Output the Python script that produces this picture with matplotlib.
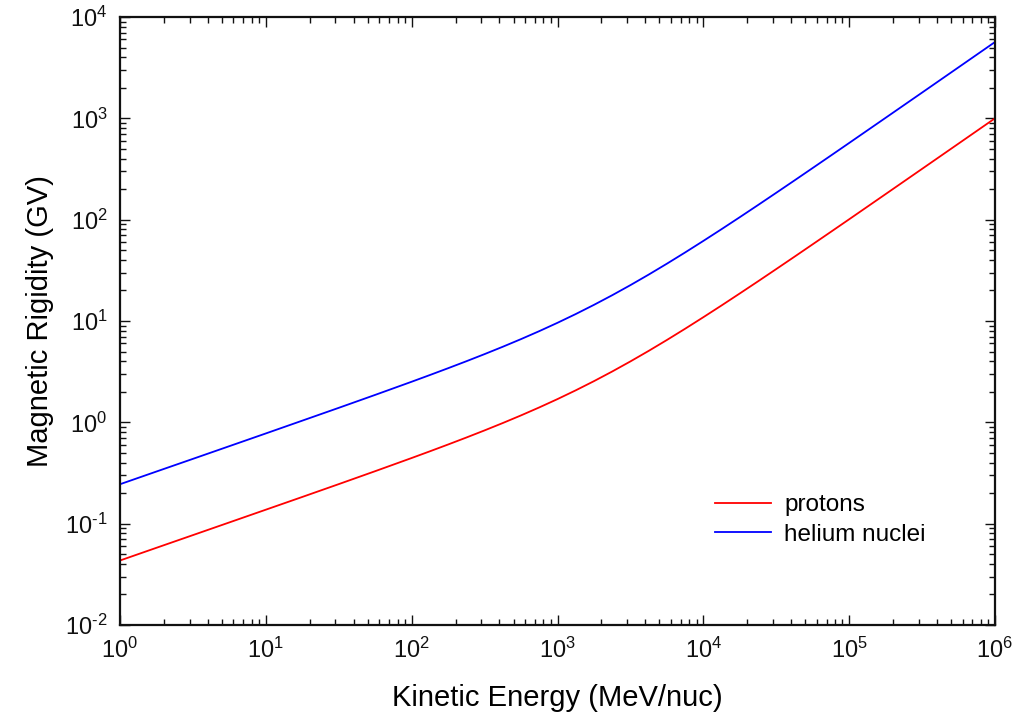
import matplotlib
matplotlib.use("Agg")
import matplotlib.pyplot as plt
from matplotlib.ticker import LogLocator, FixedLocator, NullFormatter

plt.rcParams['font.family'] = ['Liberation Sans', 'DejaVu Sans']
plt.rcParams['mathtext.fontset'] = 'custom'
plt.rcParams['mathtext.rm'] = 'Liberation Sans'
plt.rcParams['mathtext.it'] = 'Liberation Sans'

# Kinetic energy (MeV/nuc), sample points along the curves
energy = [1.0, 1.778, 3.162, 5.623, 10.0, 17.78, 31.62, 56.23, 100.0,
          133.35, 177.8, 237.14, 316.2, 421.7, 562.3, 749.9, 1000.0,
          1333.5, 1778.0, 2371.4, 3162.0, 4217.0, 5623.0, 7498.9, 1.0e4,
          1.3335e4, 1.778e4, 2.3714e4, 3.162e4, 4.217e4, 5.623e4, 7.4989e4, 1.0e5,
          1.778e5, 3.162e5, 5.623e5, 1.0e6]

# Magnetic rigidity (GV)
protons = [0.0433, 0.0578, 0.0771, 0.1029, 0.1374, 0.1835, 0.2456, 0.3297, 0.4446,
           0.5177, 0.6044, 0.7080, 0.8327, 0.9845, 1.171, 1.4034, 1.696,
           2.069, 2.549, 3.174, 3.992, 5.069, 6.494, 8.385, 10.90,
           14.24, 18.70, 24.63, 32.55, 43.10, 57.17, 75.92, 100.9,
           178.8, 317.2, 563.3, 1000.9]
helium = [0.245, 0.327, 0.436, 0.582, 0.777, 1.039, 1.390, 1.866, 2.516,
          2.930, 3.421, 4.007, 4.713, 5.572, 6.628, 7.943, 9.60,
          11.71, 14.43, 17.96, 22.59, 28.69, 36.76, 47.46, 61.7,
          80.6, 105.8, 139.4, 184.2, 243.9, 323.6, 429.7, 571.3,
          1012.0, 1795.0, 3188.0, 5665.0]

x_ticks = [1e0, 1e1, 1e2, 1e3, 1e4, 1e5, 1e6]
x_labels = [r'$10^{0}$', r'$10^{1}$', r'$10^{2}$', r'$10^{3}$', r'$10^{4}$', r'$10^{5}$', r'$10^{6}$']
y_ticks = [1e-2, 1e-1, 1e0, 1e1, 1e2, 1e3, 1e4]
y_labels = [r'$10^{\text{-}2}$', r'$10^{\text{-}1}$', r'$10^{0}$', r'$10^{1}$', r'$10^{2}$', r'$10^{3}$', r'$10^{4}$']

fig = plt.figure(figsize=(10.15, 7.20), dpi=100)
ax = fig.add_axes([120/1015, 1 - 625/720, 875/1015, 608/720])

ax.plot(energy, protons, color='#ff0000', lw=1.3, label='protons')
ax.plot(energy, helium, color='#0000ff', lw=1.3, label='helium nuclei')

ax.set_xscale('log')
ax.set_yscale('log')
ax.set_xlim(1, 1e6)
ax.set_ylim(1e-2, 1e4)

ax.xaxis.set_major_locator(FixedLocator(x_ticks))
ax.yaxis.set_major_locator(FixedLocator(y_ticks))
ax.set_xticklabels(x_labels)
ax.set_yticklabels(y_labels)
ax.xaxis.set_minor_locator(LogLocator(base=10, subs=range(2, 10), numticks=20))
ax.yaxis.set_minor_locator(LogLocator(base=10, subs=range(2, 10), numticks=20))
ax.xaxis.set_minor_formatter(NullFormatter())
ax.yaxis.set_minor_formatter(NullFormatter())

ax.tick_params(which='both', direction='in', top=True, right=True, width=1.0, colors='#111111')
ax.tick_params(which='major', length=7, labelsize=17, pad=9)
ax.tick_params(which='minor', length=4)
for s in ax.spines.values():
    s.set_linewidth(1.6)
    s.set_color('#111111')

ax.set_xlabel('Kinetic Energy (MeV/nuc)', fontsize=21, labelpad=15)
ax.set_ylabel('Magnetic Rigidity (GV)', fontsize=21, labelpad=8)

leg = ax.legend(loc='center left', bbox_to_anchor=((715-120)/875, (625-520)/608),
                frameon=False, fontsize=17.5, borderpad=0, borderaxespad=0,
                handlelength=2.3, handletextpad=0.55, labelspacing=0.3)

fig.savefig('out.png', dpi=100)
